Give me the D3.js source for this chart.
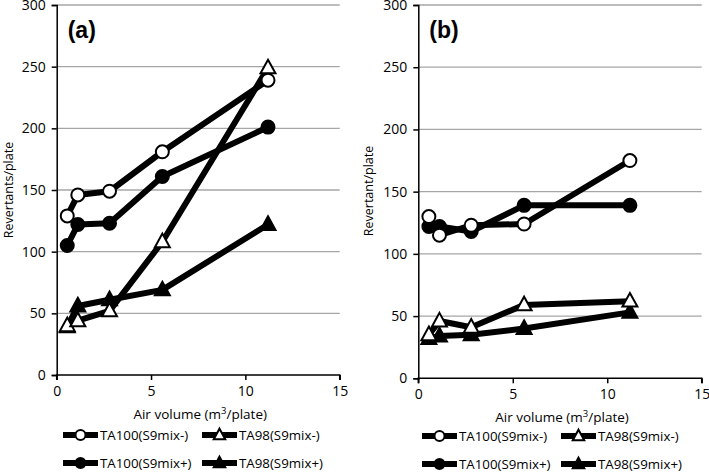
<!DOCTYPE html>
<html>
<head>
<meta charset="utf-8">
<script src="https://cdn.jsdelivr.net/npm/d3@7"></script>
<style>
  body { margin: 0; background: #fff; }
  text { font-family: "Open Sans", sans-serif; fill: #000; }
</style>
</head>
<body>
<svg id="chart" width="709" height="473"></svg>
<script>
// Air volume (m3/plate) for each dose
const airVolume = [0.56, 1.12, 2.8, 5.6, 11.2];
const seriesNames = ["TA100(S9mix-)", "TA98(S9mix-)", "TA100(S9mix+)", "TA98(S9mix+)"];
const yTicks = [0, 50, 100, 150, 200, 250, 300];
const xTicks = [0, 5, 10, 15];

// Panel (a)
const a_TA100minus = [129, 146, 149, 181, 239];
const a_TA100plus = [105, 122, 123, 161, 201];
const a_TA98minus = [40, 44, 52, 108, 249];
const a_TA98plus = [39, 56, 61, 69, 122];

// Panel (b)
const b_TA100minus = [130, 115, 123, 124, 175];
const b_TA100plus = [122, 122, 118, 139, 139];
const b_TA98minus = [35, 46, 41, 59, 62];
const b_TA98plus = [32, 34, 35, 40, 53];

const svg = d3.select("#chart");

// marker styles per series
const styles = {
  "TA100(S9mix-)": { shape: "circle", fill: "#fff" },
  "TA100(S9mix+)": { shape: "circle", fill: "#000" },
  "TA98(S9mix-)": { shape: "triangle", fill: "#fff" },
  "TA98(S9mix+)": { shape: "triangle", fill: "#000" }
};

function drawMarker(g, shape, fill, x, y, r) {
  if (shape === "circle") {
    g.append("circle")
      .attr("cx", x).attr("cy", y).attr("r", r)
      .attr("fill", fill).attr("stroke", "#000").attr("stroke-width", 2);
  } else {
    const h = r * 2.1;
    const w = r * 2.3;
    g.append("path")
      .attr("d", `M${x},${y - h * 0.6}L${x + w / 2},${y + h * 0.4}L${x - w / 2},${y + h * 0.4}Z`)
      .attr("fill", fill).attr("stroke", "#000").attr("stroke-width", 2)
      .attr("stroke-linejoin", "miter");
  }
}

function drawPanel(p) {
  const x = d3.scaleLinear().domain([0, 15]).range([p.left, p.right]);
  const y = d3.scaleLinear().domain([0, 300]).range([p.bottom, p.top]);
  const g = svg.append("g");

  // gridlines
  g.selectAll(".grid")
    .data(yTicks.filter((d) => d > 0))
    .enter()
    .append("line")
    .attr("x1", p.left).attr("x2", p.right)
    .attr("y1", (d) => y(d)).attr("y2", (d) => y(d))
    .attr("stroke", "#a6a6a6").attr("stroke-width", 1.3);

  // axes
  const yAxis = d3.axisLeft(y).tickValues(yTicks).tickSize(5).tickPadding(6);
  const xAxis = d3.axisBottom(x).tickValues(xTicks).tickSize(5).tickPadding(6);
  const ya = g.append("g").attr("transform", `translate(${p.left},0)`).call(yAxis);
  const xa = g.append("g").attr("transform", `translate(0,${p.bottom})`).call(xAxis);
  [ya, xa].forEach((a) => {
    a.select(".domain").attr("stroke", "#000").attr("stroke-width", 1.5);
    a.selectAll(".tick line").attr("stroke", "#000").attr("stroke-width", 1.5);
    a.selectAll(".tick text").style("font-size", "14px");
  });
  xa.select(".domain").attr("d", `M${p.left},5V0H${p.right}V5`);

  // axis titles
  g.append("text")
    .attr("x", (p.left + p.right) / 2 + 2)
    .attr("y", p.bottom + 44)
    .attr("text-anchor", "middle")
    .style("font-size", "13.5px")
    .html("Air volume (m<tspan dy='-5' font-size='9.5px'>3</tspan><tspan dy='5'>/plate)</tspan>");
  g.append("text")
    .attr("transform", `translate(${p.left - p.titleOff},${p.titleY}) rotate(-90)`)
    .attr("text-anchor", "middle")
    .style("font-size", "12.5px")
    .text(p.yTitle);

  // panel tag
  g.append("text")
    .attr("x", p.left + 11).attr("y", 38)
    .style("font-size", "23px").style("font-weight", "bold")
    .style("font-family", "Liberation Sans, Arial, sans-serif")
    .text(p.tag);

  // series
  const line = d3.line().x((d, i) => x(airVolume[i])).y((d) => y(d));
  const order = ["TA98(S9mix+)", "TA98(S9mix-)", "TA100(S9mix+)", "TA100(S9mix-)"];
  order.forEach((name) => {
    const vals = p.series[name];
    g.append("path").datum(vals)
      .attr("d", line)
      .attr("fill", "none").attr("stroke", "#000").attr("stroke-width", 6)
      .attr("stroke-linejoin", "round");
  });
  order.forEach((name) => {
    const vals = p.series[name];
    const st = styles[name];
    vals.forEach((v, i) => drawMarker(g, st.shape, st.fill, x(airVolume[i]), y(v), 6.5));
  });

  // legend
  const lg = svg.append("g");
  const cols = [p.legendX, p.legendX + 139];
  const rows = [p.legendY, p.legendY + 28];
  const layout = [[0, 0], [1, 0], [0, 1], [1, 1]];
  seriesNames.forEach((name, i) => {
    const cx = cols[layout[i][0]];
    const cy = rows[layout[i][1]];
    const st = styles[name];
    lg.append("line")
      .attr("x1", cx).attr("x2", cx + 35).attr("y1", cy).attr("y2", cy)
      .attr("stroke", "#000").attr("stroke-width", 6);
    drawMarker(lg, st.shape, st.fill, cx + 17.5, cy, 5);
    lg.append("text")
      .attr("x", cx + 37).attr("y", cy)
      .attr("dy", "0.35em")
      .style("font-size", "13.3px")
      .text(name);
  });
}

drawPanel({
  left: 56.7, right: 339.7, top: 5, bottom: 375,
  tag: "(a)", yTitle: "Revertants/plate", titleOff: 44, titleY: 190,
  legendX: 63, legendY: 435,
  series: {
    "TA100(S9mix-)": a_TA100minus,
    "TA100(S9mix+)": a_TA100plus,
    "TA98(S9mix-)": a_TA98minus,
    "TA98(S9mix+)": a_TA98plus
  }
});

drawPanel({
  left: 418.3, right: 701.7, top: 5, bottom: 378.3,
  tag: "(b)", yTitle: "Revertant/plate", titleOff: 45, titleY: 191,
  legendX: 422, legendY: 436,
  series: {
    "TA100(S9mix-)": b_TA100minus,
    "TA100(S9mix+)": b_TA100plus,
    "TA98(S9mix-)": b_TA98minus,
    "TA98(S9mix+)": b_TA98plus
  }
});
</script>
</body>
</html>
